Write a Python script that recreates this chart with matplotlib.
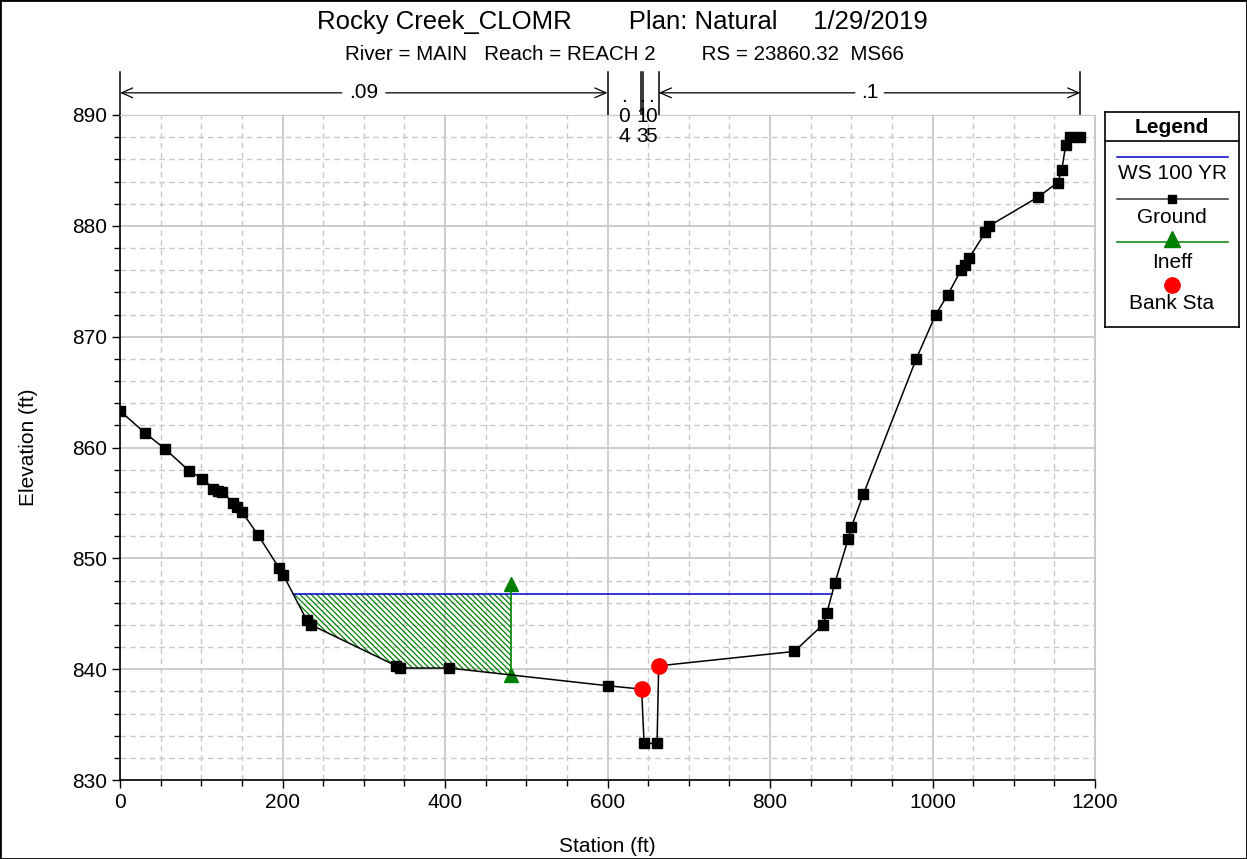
import numpy as np
import matplotlib
matplotlib.use("Agg")
from matplotlib import pyplot as plt
from matplotlib.ticker import MultipleLocator

plt.rcParams['font.family'] = ['Liberation Sans', 'DejaVu Sans']
plt.rcParams['hatch.linewidth'] = 0.9

# ground profile (station, elevation)
station = [0, 31, 55, 85, 101, 115, 121, 126, 139, 144, 150, 170, 196, 201,
           230, 235, 340, 345, 405, 601, 642, 645, 661, 663, 830, 865, 870,
           880, 896, 900, 915, 980, 1004, 1019, 1035, 1040, 1045, 1065, 1070,
           1130, 1154, 1159, 1164, 1169, 1182]
elev = [863.3, 861.3, 859.9, 857.9, 857.2, 856.3, 856.1, 856.0, 855.0, 854.6,
        854.2, 852.1, 849.1, 848.5, 844.4, 844.0, 840.3, 840.1, 840.1, 838.5,
        838.2, 833.3, 833.3, 840.3, 841.6, 844.0, 845.1, 847.8, 851.7, 852.8,
        855.8, 868.0, 872.0, 873.8, 876.0, 876.5, 877.1, 879.4, 880.0, 882.6,
        883.9, 885.0, 887.3, 888.0, 888.0]

ws_elev = 846.8
ineff_sta = 481
ineff_elev = 847.7
bank_sta = [642, 663]

n_breaks = [0, 600, 641, 643.4, 663, 1182]
n_values = ['.09', '.04', '.13', '.05', '.1']

st = np.array(station, float)
el = np.array(elev, float)

fig = plt.figure(figsize=(12.47, 8.59), dpi=100)
ax = fig.add_axes([120/1247, 1-780/859, 975/1247, 665/859])

# water surface limits where it meets the ground
def crossing(i0, i1):
    return st[i0] + (ws_elev - el[i0]) / (el[i1] - el[i0]) * (st[i1] - st[i0])

left_x = None
for i in range(len(st)-1):
    if el[i] >= ws_elev > el[i+1] and left_x is None:
        left_x = crossing(i, i+1)
    if el[i] < ws_elev <= el[i+1]:
        right_x = crossing(i, i+1)

ax.plot([left_x, right_x], [ws_elev, ws_elev], color='#0000cc', lw=1.1, zorder=3)

# ineffective area hatch
ineff_ground = np.interp(ineff_sta, st, el)
hx = np.concatenate([[left_x], st[(st > left_x) & (st < ineff_sta)], [ineff_sta]])
hy = np.interp(hx, st, el)
ax.fill_between(hx, hy, ws_elev, facecolor='none', edgecolor='green',
                hatch='\\\\\\\\\\\\', linewidth=0, zorder=2)
ax.plot([ineff_sta, ineff_sta], [ineff_ground, ineff_elev], color='green', lw=1.2,
        marker='^', ms=10, zorder=4)

ax.plot(st, el, color='black', lw=1.1, marker='s', ms=7, zorder=5)
ax.plot(bank_sta, np.interp(bank_sta, st, el), 'o', color='red', ms=11, zorder=6)

ax.set_xlim(0, 1200)
ax.set_ylim(830, 890)
ax.xaxis.set_major_locator(MultipleLocator(200))
ax.xaxis.set_minor_locator(MultipleLocator(50))
ax.yaxis.set_major_locator(MultipleLocator(10))
ax.yaxis.set_minor_locator(MultipleLocator(2))
ax.grid(which='major', color='#c8c8c8', lw=1.3)
ax.grid(which='minor', color='#c8c8c8', lw=1, ls=(0, (4, 3)))
ax.set_axisbelow(True)
for s in ['top', 'right']:
    ax.spines[s].set_color('#c8c8c8')
for s in ['left', 'bottom']:
    ax.spines[s].set_linewidth(1.2)
ax.tick_params(which='major', length=6, labelsize=15, width=1)
ax.tick_params(which='minor', length=4, width=1)
ax.set_xlabel('Station (ft)', fontsize=15, labelpad=18)
ax.set_ylabel('Elevation (ft)', fontsize=15, labelpad=24)

# Manning's n markers above the plot
y_arr = 892.0
for b in n_breaks:
    ax.plot([b, b], [890, 893.9], color='black', lw=1.1, clip_on=False)
for i, n in enumerate(n_values):
    a, b = n_breaks[i], n_breaks[i+1]
    mid = (a + b) / 2
    if b - a > 100:
        half = len(n) * 9
        for end, start in [(a, mid - half), (b, mid + half)]:
            ax.annotate('', xy=(end, y_arr), xytext=(start, y_arr),
                        arrowprops=dict(arrowstyle='->,head_length=0.8,head_width=0.35',
                                        lw=0.9, color='black',
                                        shrinkA=0, shrinkB=0),
                        annotation_clip=False)
        ax.text(mid, y_arr, n, ha='center', va='center', fontsize=15,
                clip_on=False)
    else:
        ax.text(mid, 892.5, '\n'.join(n), ha='center', va='top', fontsize=15,
                linespacing=1.05, clip_on=False)

fig.text(0.499, 0.974, 'Rocky Creek_CLOMR        Plan: Natural     1/29/2019',
         ha='center', va='center', fontsize=18.5)
fig.text(0.501, 0.936, 'River = MAIN   Reach = REACH 2        RS = 23860.32  MS66',
         ha='center', va='center', fontsize=14.8)

# legend box
lg = fig.add_axes([1105/1247, 1-327/859, 134/1247, 215/859])
lg.set_xlim(0, 1)
lg.set_ylim(0, 1)
lg.set_xticks([])
lg.set_yticks([])
for s in lg.spines.values():
    s.set_linewidth(1.2)
lg.text(0.5, 0.93, 'Legend', ha='center', va='center', fontsize=15, weight='bold')
lg.axhline(0.865, color='black', lw=1.2)
lg.plot([0.09, 0.92], [0.79, 0.79], color='#0000cc', lw=1.1)
lg.text(0.5, 0.712, 'WS 100 YR', ha='center', va='center', fontsize=15)
lg.plot([0.09, 0.92], [0.595, 0.595], color='#333333', lw=1.1)
lg.plot([0.5], [0.595], 's', color='black', ms=6)
lg.text(0.5, 0.507, 'Ground', ha='center', va='center', fontsize=15)
lg.plot([0.09, 0.92], [0.395, 0.395], color='green', lw=1.1)
lg.plot([0.5], [0.41], '^', color='green', ms=11)
lg.text(0.5, 0.302, 'Ineff', ha='center', va='center', fontsize=15)
lg.plot([0.5], [0.195], 'o', color='red', ms=11)
lg.text(0.5, 0.107, 'Bank Sta', ha='center', va='center', fontsize=15)

fig.patches.append(plt.Rectangle((0, 0), 1, 1, transform=fig.transFigure,
                                 fill=False, edgecolor='black', lw=2))

fig.savefig('out.png', dpi=100)
